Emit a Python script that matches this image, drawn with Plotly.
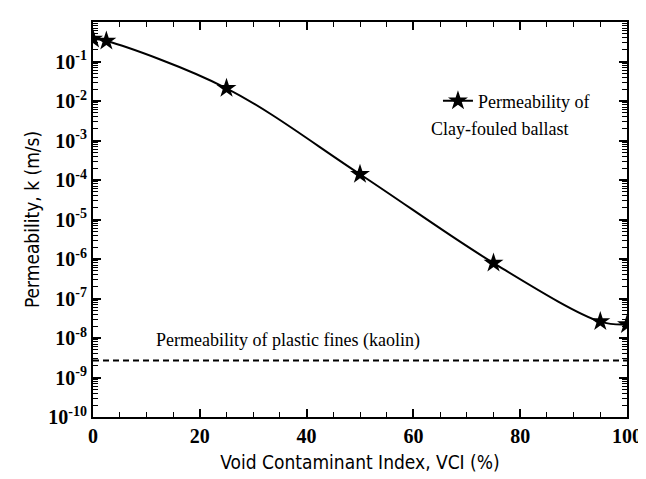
import plotly.graph_objects as go

vci = [0, 2.5, 25, 50, 75, 95, 100]
perm = [0.37, 0.33, 0.021, 1.4e-4, 7.9e-7, 2.6e-8, 2.2e-8]
kaolin_x = [0, 100]
kaolin_k = [2.7e-9, 2.7e-9]
x_ticks = [0, 20, 40, 60, 80, 100]
y_exps = [-10, -9, -8, -7, -6, -5, -4, -3, -2, -1]

serif = "Liberation Serif"
narrow = "Liberation Sans Narrow, DejaVu Sans Condensed, sans-serif"

fig = go.Figure()
fig.add_trace(go.Scatter(
    x=vci, y=perm, mode="lines+markers",
    line=dict(color="black", width=2, shape="spline", smoothing=1.0),
    marker=dict(symbol="star", size=15, color="black"),
    name="Permeability of",
))
fig.add_trace(go.Scatter(
    x=kaolin_x, y=kaolin_k, mode="lines",
    line=dict(color="black", width=2, dash="6px,4px"),
    showlegend=False,
))

fig.add_annotation(x=36.5, y=-8.07, xref="x", yref="y", text="Permeability of plastic fines (kaolin)",
                   showarrow=False, font=dict(family=serif, size=18, color="black"))
fig.add_annotation(x=0.63, y=0.73, xref="paper", yref="paper", xanchor="left", yanchor="middle",
                   text="Clay-fouled ballast", showarrow=False,
                   font=dict(family=serif, size=18, color="black"))

fig.update_layout(
    width=646, height=479,
    margin=dict(l=85, r=18, t=13, b=70),
    paper_bgcolor="white", plot_bgcolor="white",
    font=dict(family=serif, color="black"),
    showlegend=True,
    legend=dict(x=0.646, y=0.80, xanchor="left", yanchor="middle",
                font=dict(family=serif, size=18, color="black"),
                bgcolor="rgba(0,0,0,0)", itemwidth=30, tracegroupgap=0),
    xaxis=dict(
        range=[0, 100],
        tickvals=x_ticks, ticktext=[str(v) for v in x_ticks],
        showline=True, linecolor="black", linewidth=2, mirror="allticks",
        ticks="inside", ticklen=8, tickwidth=1.5, tickcolor="black",
        showgrid=False, zeroline=False,
        tickfont=dict(family=serif, size=20, color="black", weight="bold"),
        minor=dict(ticks="inside", dtick=5, ticklen=5, tickwidth=1.2, tickcolor="black", showgrid=False),
        title=dict(text="Void Contaminant Index, VCI (%)", font=dict(family=narrow, size=19, color="black"), standoff=10),
    ),
    yaxis=dict(
        type="log", range=[-10, 0],
        showline=True, linecolor="black", linewidth=2, mirror="allticks",
        ticks="inside", ticklen=8, tickwidth=1.5, tickcolor="black",
        showgrid=False, zeroline=False,
        tickvals=[10.0 ** e for e in y_exps],
        ticktext=[f"10<sup>{e}</sup>" for e in y_exps],
        tickfont=dict(family=serif, size=20, color="black", weight="bold"),
        minor=dict(ticks="inside", dtick="D1", ticklen=5, tickwidth=1.2, tickcolor="black", showgrid=False),
        title=dict(text="Permeability, k (m/s)", font=dict(family=narrow, size=19, color="black"), standoff=4),
    ),
)

fig.write_html("out.html")
